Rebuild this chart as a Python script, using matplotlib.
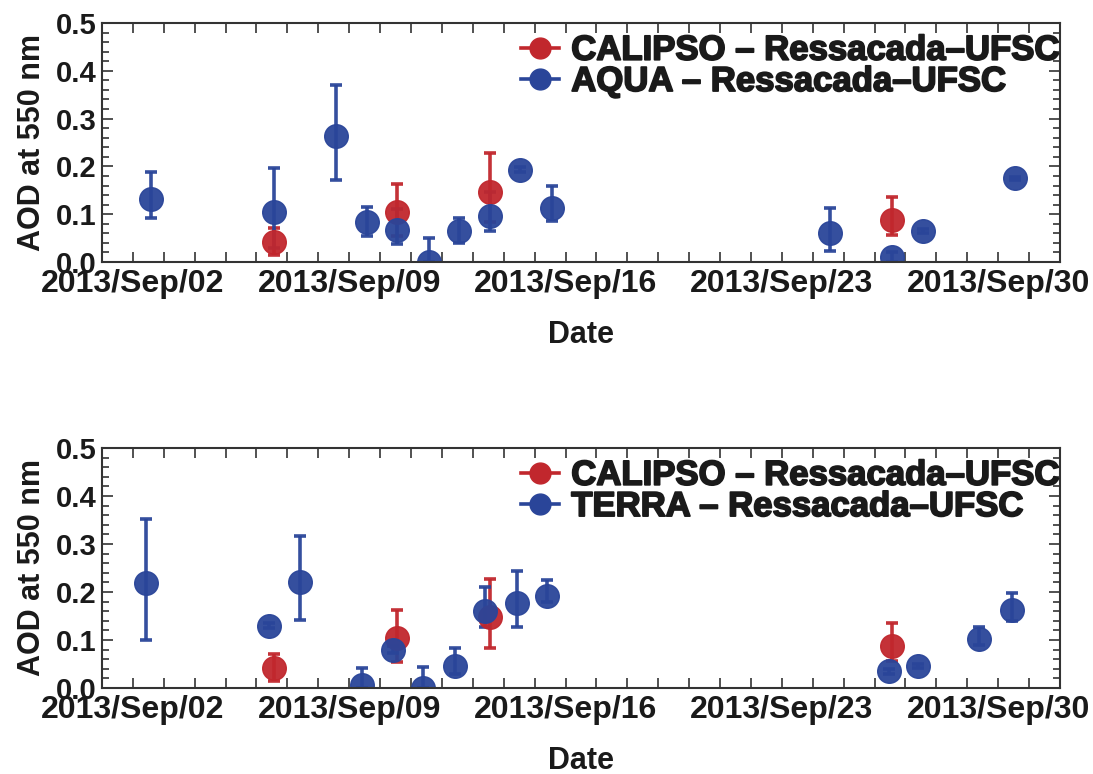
import numpy as np
import pandas as pd
import matplotlib
matplotlib.use('Agg')
import matplotlib.pyplot as plt
import matplotlib.dates as mdates
import matplotlib.patheffects as pe
from matplotlib.lines import Line2D
from matplotlib.ticker import MultipleLocator, FormatStrFormatter

# CALIPSO - Ressacada-UFSC (same overpasses in both panels)
calipso_dates = ['2013-09-06 13:40', '2013-09-10 13:30', '2013-09-13 13:40', '2013-09-26 13:40']
calipso_aod = [0.042, 0.105, 0.147, 0.088]
calipso_lo = [0.015, 0.055, 0.084, 0.057]
calipso_hi = [0.071, 0.163, 0.227, 0.135]

# AQUA - Ressacada-UFSC
aqua_dates = ['2013-09-02 13:50', '2013-09-06 13:40', '2013-09-08 13:30', '2013-09-09 14:10',
              '2013-09-10 13:30', '2013-09-11 14:10', '2013-09-12 13:00', '2013-09-13 13:40',
              '2013-09-14 13:00', '2013-09-15 13:30', '2013-09-24 13:30', '2013-09-26 13:40',
              '2013-09-27 13:50', '2013-09-30 13:10']
aqua_aod = [0.131, 0.104, 0.263, 0.083, 0.066, 0.0, 0.065, 0.096, 0.193, 0.114, 0.060, 0.011, 0.064, 0.175]
aqua_lo = [0.091, 0.030, 0.172, 0.055, 0.038, 0.0, 0.040, 0.064, 0.188, 0.086, 0.024, 0.0, 0.060, 0.172]
aqua_hi = [0.188, 0.197, 0.370, 0.115, 0.110, 0.050, 0.092, 0.146, 0.199, 0.160, 0.114, 0.020, 0.068, 0.178]

# TERRA - Ressacada-UFSC
terra_dates = ['2013-09-02 09:50', '2013-09-06 09:20', '2013-09-07 10:10', '2013-09-09 10:10',
               '2013-09-10 10:20', '2013-09-11 09:40', '2013-09-12 10:20', '2013-09-13 09:20',
               '2013-09-14 10:05', '2013-09-15 09:20', '2013-09-26 11:00', '2013-09-27 09:50',
               '2013-09-29 09:20', '2013-09-30 10:30']
terra_aod = [0.218, 0.130, 0.220, 0.006, 0.080, 0.0, 0.046, 0.160, 0.178, 0.192, 0.035, 0.046, 0.103, 0.163]
terra_lo = [0.100, 0.125, 0.142, 0.0, 0.072, 0.0, 0.030, 0.128, 0.128, 0.180, 0.030, 0.042, 0.090, 0.140]
terra_hi = [0.353, 0.135, 0.317, 0.042, 0.088, 0.044, 0.083, 0.211, 0.244, 0.226, 0.040, 0.050, 0.128, 0.197]

major_days = ['2013-09-02', '2013-09-09', '2013-09-16', '2013-09-23', '2013-09-30']

red = '#C1272D'
blue = '#2A4599'
txt = '#1a1a1a'
font = 'Liberation Sans'


def series(ax, dates, aod, lo, hi, color):
    d = pd.to_datetime(dates)
    y = np.array(aod)
    yerr = [y - np.array(lo), np.array(hi) - y]
    ax.errorbar(d, y, yerr=yerr, fmt='o', ms=17, color=color, ecolor=color,
                elinewidth=2.6, capsize=4, capthick=2.6, alpha=0.95)


def style(ax, other):
    ax.set_xlim(pd.Timestamp('2013-09-01'), pd.Timestamp('2013-10-02'))
    ax.set_ylim(0, 0.5)
    ax.set_xticks(pd.to_datetime(major_days))
    ax.xaxis.set_minor_locator(mdates.DayLocator())
    ax.xaxis.set_major_formatter(mdates.DateFormatter('%Y/%b/%d'))
    ax.yaxis.set_major_locator(MultipleLocator(0.1))
    ax.yaxis.set_minor_locator(MultipleLocator(0.02))
    ax.yaxis.set_major_formatter(FormatStrFormatter('%.1f'))
    ax.tick_params(axis='both', which='both', direction='in', top=True, right=True,
                   width=1.2, colors='#333333', labelcolor=txt)
    ax.tick_params(axis='x', which='both', length=7, pad=5)
    ax.tick_params(axis='y', which='major', length=8, pad=4)
    ax.tick_params(axis='y', which='minor', length=5)
    for lab in ax.get_xticklabels():
        lab.set_fontfamily(font); lab.set_fontweight('bold'); lab.set_fontsize(23)
    for lab in ax.get_yticklabels():
        lab.set_fontfamily(font); lab.set_fontweight('bold'); lab.set_fontsize(21)
    for s in ax.spines.values():
        s.set_linewidth(1.5)
        s.set_color('#333333')
    ax.set_xlabel('Date', family=font, weight='bold', size=22, color=txt, labelpad=15)
    ax.set_ylabel('AOD at 550 nm', family=font, weight='bold', size=22, color=txt, labelpad=6)
    handles = [Line2D([], [], color=red, marker='o', ms=15, lw=2.6),
               Line2D([], [], color=blue, marker='o', ms=15, lw=2.6)]
    leg = ax.legend(handles, ['CALIPSO – Ressacada–UFSC', other + ' – Ressacada–UFSC'],
                    loc='upper right', bbox_to_anchor=(1.0, 0.955), frameon=False,
                    prop=dict(family=font, weight='bold', size=25),
                    handlelength=1.1, handletextpad=0.35, labelspacing=-0.05,
                    borderaxespad=0, borderpad=0, labelcolor=txt)
    for t in leg.get_texts():
        t.set_path_effects([pe.withStroke(linewidth=1.3, foreground=txt)])


fig = plt.figure(figsize=(10.93, 7.74), dpi=100)
ax1 = fig.add_axes([0.0933, 0.6615, 0.8765, 0.3088])
ax2 = fig.add_axes([0.0933, 0.1111, 0.8765, 0.3101])

series(ax1, calipso_dates, calipso_aod, calipso_lo, calipso_hi, red)
series(ax1, aqua_dates, aqua_aod, aqua_lo, aqua_hi, blue)
style(ax1, 'AQUA')

series(ax2, calipso_dates, calipso_aod, calipso_lo, calipso_hi, red)
series(ax2, terra_dates, terra_aod, terra_lo, terra_hi, blue)
style(ax2, 'TERRA')

fig.savefig('out.png', dpi=100)
